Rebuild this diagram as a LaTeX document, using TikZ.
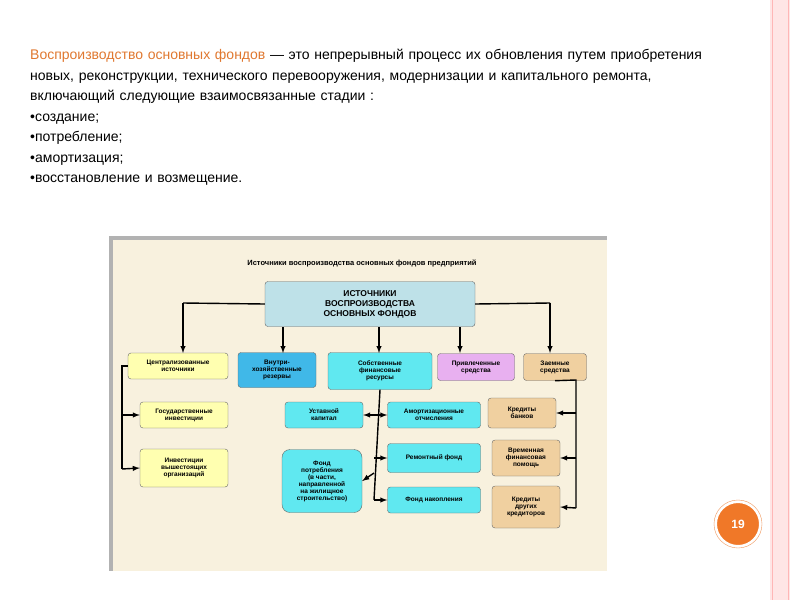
\documentclass[tikz,border=0pt]{standalone}
\usepackage{fontspec}
\setmainfont{Liberation Sans}
\begin{document}
\begin{tikzpicture}[x=1pt,y=-1pt,
 bx/.style={draw=black!60,rounded corners=3pt,align=center,font=\fontsize{6.5}{7}\selectfont\bfseries,inner sep=1pt},
 ar/.style={-latex,line width=1.4pt},
 ln/.style={line width=1.4pt}]
\useasboundingbox (0,0) rectangle (800,600);
\fill[white] (0,0) rectangle (800,600);
\fill[pink!40] (770,0) rectangle (790,600);
\draw[pink!70!red!60,line width=1pt] (772,0)--(772,600) (788,0)--(788,600);
% text
\node[anchor=north west,align=left,font=\fontsize{14}{20.5}\selectfont,text width=700pt,inner sep=0] (txt) at (30,49) {{\color[HTML]{E07830}Воспроизводство основных фондов} — это непрерывный процесс их обновления путем приобретения новых, реконструкции, технического перевооружения, модернизации и капитального ремонта, включающий следующие взаимосвязанные стадии :\\
•создание;\\ •потребление;\\ •амортизация;\\ •восстановление и возмещение.};
% diagram
\fill[gray!60] (109,236) rectangle (607,571);
\fill[color={rgb,255:red,248;green,241;blue,222}] (113,240) rectangle (607,571);
\node[font=\fontsize{7.5}{8}\selectfont\bfseries] (ttl) at (362,263) {Источники воспроизводства основных фондов предприятий};
\node[bx,fill={rgb,255:red,190;green,225;blue,232},minimum width=210,minimum height=45,font=\fontsize{8.5}{10}\selectfont\bfseries] (m) at (370,304) {ИСТОЧНИКИ\\ВОСПРОИЗВОДСТВА\\ОСНОВНЫХ ФОНДОВ};
\node[bx,fill={rgb,255:red,255;green,255;blue,176},minimum width=100,minimum height=26] (a) at (178,366) {Централизованные\\источники};
\node[bx,fill={rgb,255:red,64;green,184;blue,232},minimum width=78,minimum height=35] (b) at (277,370) {Внутри-\\хозяйственные\\резервы};
\node[bx,fill={rgb,255:red,96;green,232;blue,240},minimum width=104,minimum height=37] (c) at (380,371) {Собственные\\финансовые\\ресурсы};
\node[bx,fill={rgb,255:red,232;green,176;blue,240},minimum width=77,minimum height=27] (d) at (476,367) {Привлеченные\\средства};
\node[bx,fill={rgb,255:red,240;green,208;blue,160},minimum width=63,minimum height=27] (e) at (555,367) {Заемные\\средства};
\coordinate (ma) at (183,303); \coordinate (me) at (550,303);
\draw[ln] (m.west)--(ma); \draw[ar] (ma)--(183,353);
\draw[ln] (m.east)--(me); \draw[ar] (me)--(550,353);
\draw[ar] (283,327)--(283,353);
\draw[ar] (379,327)--(379,353);
\draw[ar] (460,327)--(460,353);
% left
\node[bx,fill={rgb,255:red,255;green,255;blue,176},minimum width=88,minimum height=26] (a1) at (184,415) {Государственные\\инвестиции};
\node[bx,fill={rgb,255:red,255;green,255;blue,176},minimum width=88,minimum height=38] (a2) at (184,468) {Инвестиции\\вышестоящих\\организаций};
\coordinate (la) at (122,366);
\draw[ln] (a.west)--(la)--(122,469);
\draw[ar] (122,415)--(a1.west);
\draw[ar] (122,469)--(a2.west);
% middle
\node[bx,fill={rgb,255:red,96;green,232;blue,240},minimum width=78,minimum height=26] (c1) at (324,415) {Уставной\\капитал};
\node[bx,fill={rgb,255:red,96;green,232;blue,240},minimum width=80,minimum height=63,rounded corners=8pt] (c2) at (322,481) {Фонд\\потребления\\(в части,\\направленной\\на жилищное\\строительство)};
\node[bx,fill={rgb,255:red,96;green,232;blue,240},minimum width=93,minimum height=26] (c3) at (434,415) {Амортизационные\\отчисления};
\node[bx,fill={rgb,255:red,96;green,232;blue,240},minimum width=93,minimum height=29] (c4) at (434,458) {Ремонтный фонд};
\node[bx,fill={rgb,255:red,96;green,232;blue,240},minimum width=93,minimum height=26] (c5) at (434,500) {Фонд накопления};
\draw[ln] (c.south)--(374,500);
\draw[ar] (374,415)--(c1.east);
\draw[ar] (374,473)--(c2.east);
\draw[ar] (374,415)--(c3.west);
\draw[ar] (374,458)--(c4.west);
\draw[ar] (374,500)--(c5.west);
% right
\node[bx,fill={rgb,255:red,240;green,208;blue,160},minimum width=68,minimum height=30] (e1) at (522,413) {Кредиты\\банков};
\node[bx,fill={rgb,255:red,240;green,208;blue,160},minimum width=68,minimum height=36] (e2) at (526,458) {Временная\\финансовая\\помощь};
\node[bx,fill={rgb,255:red,240;green,208;blue,160},minimum width=68,minimum height=42] (e3) at (526,507) {Кредиты\\других\\кредиторов};
\draw[ln] (e.south)--(576,380)--(576,508);
\draw[ar] (576,413)--(e1.east);
\draw[ar] (576,458)--(e2.east);
\draw[ar] (576,508)--(e3.east);
% page number
\node[circle,fill={rgb,255:red,240;green,120;blue,40},draw=white,line width=2pt,minimum size=44,text=white,font=\fontsize{12}{12}\selectfont\bfseries] (pg) at (738,524) {19};
\draw[draw={rgb,255:red,240;green,150;blue,90}] (pg.center) circle (24);
\end{tikzpicture}
\end{document}
